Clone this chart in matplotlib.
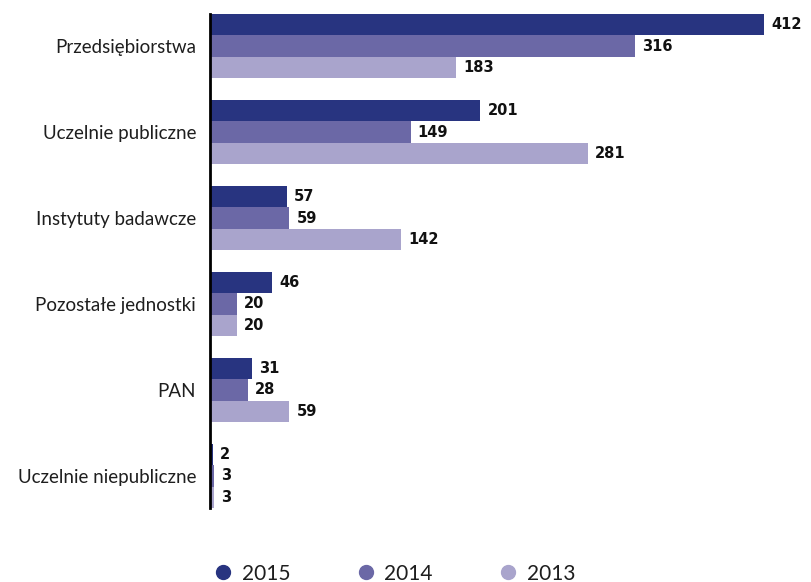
import matplotlib.pyplot as plt
import numpy as np

# Liczba podmiotów według sektora, lata 2013-2015
categories = ["Przedsiębiorstwa", "Uczelnie publiczne", "Instytuty badawcze",
              "Pozostałe jednostki", "PAN", "Uczelnie niepubliczne"]
years = ["2015", "2014", "2013"]
v2015 = [412, 201, 57, 46, 31, 2]
v2014 = [316, 149, 59, 20, 28, 3]
v2013 = [183, 281, 142, 20, 59, 3]

colors = ["#283480", "#6b68a6", "#a9a4cc"]

plt.rcParams["font.family"] = ["Lato", "DejaVu Sans"]

fig = plt.figure(figsize=(8.11, 5.82), dpi=100)
ax = fig.add_axes([0.259, 0.127, 0.72, 0.849])

y = np.arange(len(categories))
h = 0.25
for i, (vals, c, lab) in enumerate(zip([v2015, v2014, v2013], colors, years)):
    pos = y - h + i * h
    ax.barh(pos, vals, height=h, color=c, label=lab)
    for p, v in zip(pos, vals):
        ax.annotate(str(v), (v, p), xytext=(5, 0), textcoords="offset points",
                    va="center", ha="left", fontsize=10.5, fontweight="bold",
                    family="DejaVu Sans", color="#111111")

ax.set_ylim(len(categories) - 0.625, -0.375)
ax.set_xlim(0, 434)
ax.set_yticks(y)
ax.set_yticklabels(categories, fontsize=13.5, color="#1e1e1e")
ax.tick_params(axis="y", length=0, pad=10)
ax.set_xticks([])
for s in ["top", "right", "bottom"]:
    ax.spines[s].set_visible(False)
ax.spines["left"].set_linewidth(2)
ax.spines["left"].set_color("black")

handles = [plt.Line2D([], [], marker="o", linestyle="", markersize=10,
                      color=c) for c in colors]
leg = fig.legend(handles, years, loc="lower left", bbox_to_anchor=(0.237, -0.035),
                 ncol=3, frameon=False, fontsize=15, handletextpad=0.3,
                 columnspacing=3.0, handlelength=1.2)
for t in leg.get_texts():
    t.set_color("#1e1e1e")

fig.savefig("out.png", dpi=100)
